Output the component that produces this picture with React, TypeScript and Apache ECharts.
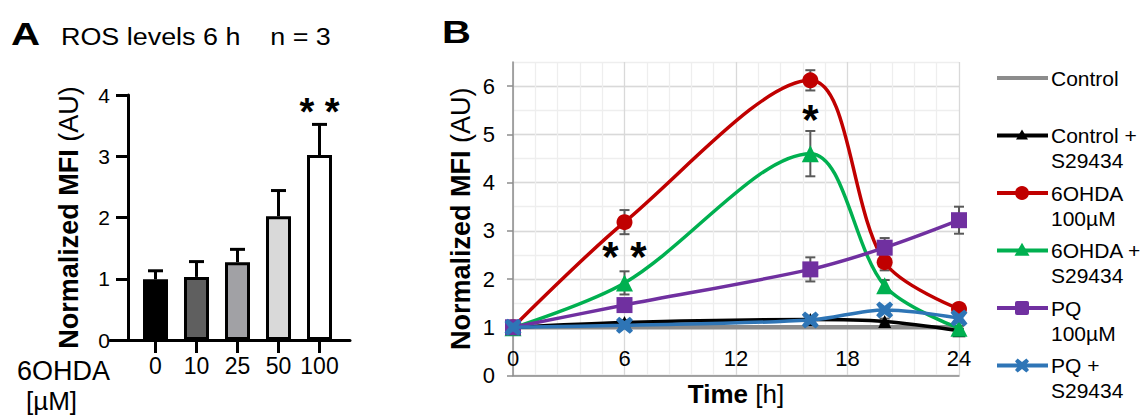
import React, { useEffect, useRef } from 'react';
import * as echarts from 'echarts';

const FONT = '"Liberation Sans", Arial, Helvetica, sans-serif';

// ---------- Panel A data ----------
const doseLabels = ['0', '10', '25', '50', '100'];
const rosMeans = [0.99, 1.03, 1.27, 2.02, 3.02];
const rosErrors = [0.14, 0.25, 0.21, 0.42, 0.5];
const barColors = ['#000000', '#5f5f5f', '#a1a1a5', '#d9d9d9', '#ffffff'];
const annA = [{ x: 4, y: 3.72, text: '* *' }];

// ---------- Panel B data ----------
const hours = [0, 6, 16, 20, 24];
const control = [1, 1, 1, 1, 1];
const controlS = [1, 1.1, 1.16, 1.12, 0.93];
const ohda = [1, 3.18, 6.12, 2.35, 1.38];
const ohdaS = [0.99, 1.92, 4.6, 1.86, 0.98];
const pq = [1, 1.46, 2.2, 2.65, 3.22];
const pqS = [1, 1.04, 1.15, 1.36, 1.19];

const controlErr = [0, 0, 0, 0, 0];
const controlSErr = [0, 0.05, 0.05, 0.06, 0.04];
const ohdaErr = [0, 0.25, 0.21, 0.17, 0.08];
const ohdaSErr = [0, 0.24, 0.47, 0.12, 0.05];
const pqErr = [0, 0.12, 0.25, 0.2, 0.28];
const pqSErr = [0, 0.04, 0.05, 0.06, 0.05];

const annB = [
  { x: 6, y: 2.47, text: '* *' },
  { x: 16, y: 5.31, text: '*' },
];

const yTicksB = [0, 1, 2, 3, 4, 5, 6];

const X_PATH = 'path://M3,0 L8,4 L13,0 L16,3 L12,8 L16,13 L13,16 L8,12 L3,16 L0,13 L4,8 L0,3 Z';

const seriesB = [
  { name: 'Control', legend: ['Control'], values: control, errors: controlErr, color: '#8c8c8c', symbol: 'none', size: 0, width: 4.5 },
  { name: 'Control + S29434', legend: ['Control +', 'S29434'], values: controlS, errors: controlSErr, color: '#000000', symbol: 'triangle', size: 13, width: 3.5 },
  { name: '6OHDA 100µM', legend: ['6OHDA', '100µM'], values: ohda, errors: ohdaErr, color: '#c00000', symbol: 'circle', size: 16, width: 3.5 },
  { name: '6OHDA + S29434', legend: ['6OHDA +', 'S29434'], values: ohdaS, errors: ohdaSErr, color: '#00b050', symbol: 'triangle', size: 17, width: 3.5 },
  { name: 'PQ 100µM', legend: ['PQ', '100µM'], values: pq, errors: pqErr, color: '#7030a0', symbol: 'rect', size: 16, width: 3.5 },
  { name: 'PQ + S29434', legend: ['PQ +', 'S29434'], values: pqS, errors: pqSErr, color: '#2e75b6', symbol: X_PATH, size: 17, width: 3.5 },
];

function errorRenderer(cap: number, color: string, width: number, upOnly: boolean) {
  return (_params: any, api: any) => {
    const x = api.value(0);
    const y = api.value(1);
    const e = api.value(2);
    if (!e) return null;
    const top = api.coord([x, y + e]);
    const bot = api.coord([x, upOnly ? y : y - e]);
    const style = { stroke: color, lineWidth: width };
    const children: any[] = [
      { type: 'line', shape: { x1: top[0], y1: top[1], x2: bot[0], y2: bot[1] }, style },
      { type: 'line', shape: { x1: top[0] - cap, y1: top[1], x2: top[0] + cap, y2: top[1] }, style },
    ];
    if (!upOnly) {
      children.push({ type: 'line', shape: { x1: bot[0] - cap, y1: bot[1], x2: bot[0] + cap, y2: bot[1] }, style });
    }
    return { type: 'group', children };
  };
}

function textRenderer(size: number, items: { text: string }[]) {
  return (params: any, api: any) => {
    const p = api.coord([api.value(0), api.value(1)]);
    const item = items[params.dataIndex];
    return {
      type: 'text',
      x: p[0],
      y: p[1],
      style: {
        text: item ? item.text : '',
        fontSize: size,
        fontWeight: 'bold',
        fontFamily: FONT,
        fill: '#000',
        align: 'center',
        verticalAlign: 'middle',
      },
    };
  };
}

function legendGraphics() {
  const els: any[] = [];
  const y0 = 78;
  const step = 57.5;
  seriesB.forEach((s, i) => {
    const y = y0 + i * step;
    els.push({ type: 'line', shape: { x1: 997, y1: y, x2: 1048, y2: y }, style: { stroke: s.color, lineWidth: 4 } });
    const cx = 1022;
    if (s.symbol === 'circle') {
      els.push({ type: 'circle', shape: { cx, cy: y, r: 7 }, style: { fill: s.color } });
    } else if (s.symbol === 'triangle') {
      const h = i === 1 ? 10 : 13;
      const w = i === 1 ? 12 : 15;
      els.push({ type: 'polygon', shape: { points: [[cx, y - h * 0.6], [cx + w / 2, y + h * 0.4], [cx - w / 2, y + h * 0.4]] }, style: { fill: s.color } });
    } else if (s.symbol === 'rect') {
      els.push({ type: 'rect', shape: { x: cx - 7, y: y - 7, width: 14, height: 14, r: 2 }, style: { fill: s.color } });
    } else if (s.symbol === X_PATH) {
      const k = 14 / 16;
      const pts = [[3, 0], [8, 4], [13, 0], [16, 3], [12, 8], [16, 13], [13, 16], [8, 12], [3, 16], [0, 13], [4, 8], [0, 3]].map(
        ([a, b]) => [cx - 7 + a * k, y - 7 + b * k]
      );
      els.push({ type: 'polygon', shape: { points: pts }, style: { fill: s.color } });
    }
    s.legend.forEach((line, j) => {
      els.push({
        type: 'text',
        x: 1051,
        y: y + j * 25,
        style: { text: line, fontSize: 21, fontFamily: FONT, fill: '#000', verticalAlign: 'middle', align: 'left' },
      });
    });
  });
  return els;
}

function buildOption(): any {
  const richName = (size: number) => ({
    b: { fontWeight: 'bold', fontSize: size, fontFamily: FONT, color: '#000' },
    n: { fontSize: size, fontFamily: FONT, color: '#000' },
  });

  const errRowsB: any[] = [];
  seriesB.forEach((s) => {
    hours.forEach((h, i) => {
      if (s.errors[i] > 0) errRowsB.push([h, s.values[i], s.errors[i]]);
    });
  });

  return {
    animation: false,
    backgroundColor: '#ffffff',
    textStyle: { fontFamily: FONT },
    grid: [
      { left: 135, top: 95, width: 205, height: 245 },
      { left: 110, top: 95, width: 240, height: 245 },
      { left: 513, top: 62, width: 446, height: 313.5 },
    ],
    xAxis: [
      {
        type: 'category',
        gridIndex: 0,
        data: doseLabels,
        axisLine: { show: false },
        axisTick: { show: true, alignWithLabel: true, length: 13, lineStyle: { color: '#000', width: 3 } },
        axisLabel: { interval: 0, hideOverlap: false, fontSize: 23, color: '#000', margin: 14, fontFamily: FONT },
        splitLine: { show: false },
      },
      {
        type: 'value',
        gridIndex: 1,
        min: 0,
        max: 1,
        axisLine: { show: true, onZero: false, lineStyle: { color: '#000', width: 3 } },
        axisTick: { show: false },
        axisLabel: { show: false },
        splitLine: { show: false },
      },
      {
        type: 'value',
        gridIndex: 2,
        position: 'bottom',
        min: 0,
        max: 24,
        interval: 6,
        axisLine: { show: true, onZero: false, lineStyle: { color: '#8c8c8c', width: 1.5 } },
        axisTick: { show: false },
        axisLabel: { inside: true, margin: 6, fontSize: 22, color: '#000', fontFamily: FONT },
        splitLine: { show: true, lineStyle: { color: '#d9d9d9', width: 1.3 } },
        minorTick: { show: false, splitNumber: 5 },
        minorSplitLine: { show: true, lineStyle: { color: '#eeeeee', width: 1.3 } },
        name: '{b|Time\u00a0}{n|[h]}',
        nameLocation: 'middle',
        nameGap: 3,
        nameTextStyle: { rich: richName(26) },
      },
    ],
    yAxis: [
      {
        type: 'value',
        gridIndex: 0,
        min: 0,
        max: 4,
        interval: 1,
        offset: 7,
        axisLine: { show: true, lineStyle: { color: '#000', width: 3 } },
        axisTick: { show: true, length: 12, lineStyle: { color: '#000', width: 3 } },
        axisLabel: { fontSize: 21, color: '#000', margin: 18, fontFamily: FONT },
        splitLine: { show: false },
        name: '{b|Normalized MFI\u00a0}{n|(AU)}',
        nameLocation: 'middle',
        nameGap: 46,
        nameTextStyle: { rich: richName(27) },
      },
      { type: 'value', gridIndex: 1, show: false, min: 0, max: 1 },
      {
        type: 'value',
        gridIndex: 2,
        position: 'left',
        min: 0,
        max: 6.5,
        interval: 0.5,
        axisLine: { show: false },
        axisTick: { show: false },
        axisLabel: { show: false },
        splitLine: { show: true, lineStyle: { color: '#eeeeee', width: 1.3 } },
      },
      {
        type: 'value',
        gridIndex: 2,
        position: 'left',
        min: 0,
        max: 6.5,
        interval: 1,
        axisLine: { show: true, lineStyle: { color: '#8c8c8c', width: 1.5 } },
        axisTick: { show: true, length: 6, lineStyle: { color: '#8c8c8c', width: 1.5 }, customValues: yTicksB },
        axisLabel: {
          fontSize: 22,
          color: '#000',
          margin: 18,
          fontFamily: FONT,
          customValues: yTicksB,
          formatter: (v: number) => (Number.isInteger(v) ? String(v) : ''),
        },
        splitLine: { show: true, lineStyle: { color: '#d9d9d9', width: 1.3 } },
        name: '{b|Normalized MFI\u00a0}{n|(AU)}',
        nameLocation: 'middle',
        nameGap: 39,
        nameTextStyle: { rich: richName(27) },
      },
    ],
    graphic: [
      { type: 'text', x: 11, y: 34, scaleX: 1.3, style: { text: 'A', fontSize: 31, fontWeight: 'bold', fontFamily: FONT, fill: '#000', verticalAlign: 'middle' } },
      { type: 'text', x: 61, y: 37, scaleX: 1.17, style: { text: 'ROS levels 6 h    n = 3', fontSize: 23, fontFamily: FONT, fill: '#000', verticalAlign: 'middle' } },
      { type: 'text', x: 442, y: 32, scaleX: 1.25, style: { text: 'B', fontSize: 32, fontWeight: 'bold', fontFamily: FONT, fill: '#000', verticalAlign: 'middle' } },
      { type: 'text', x: 17, y: 371, style: { text: '6OHDA', fontSize: 27, fontFamily: FONT, fill: '#000', verticalAlign: 'middle' } },
      { type: 'text', x: 26, y: 401, style: { text: '[µM]', fontSize: 26, fontFamily: FONT, fill: '#000', verticalAlign: 'middle' } },
      ...legendGraphics(),
    ],
    series: [
      {
        type: 'bar',
        xAxisIndex: 0,
        yAxisIndex: 0,
        barWidth: 25,
        data: rosMeans.map((v, i) => ({ value: v, itemStyle: { color: barColors[i] } })),
        itemStyle: { borderColor: '#000', borderWidth: 3 },
        z: 2,
      },
      {
        type: 'custom',
        xAxisIndex: 0,
        yAxisIndex: 0,
        renderItem: errorRenderer(7.5, '#000', 3, true),
        encode: { x: 0, y: 1 },
        data: rosMeans.map((v, i) => [i, v, rosErrors[i]]),
        z: 3,
      },
      {
        type: 'custom',
        xAxisIndex: 0,
        yAxisIndex: 0,
        renderItem: textRenderer(38, annA),
        encode: { x: 0, y: 1 },
        data: annA.map((a) => [a.x, a.y]),
        z: 4,
      },
      {
        type: 'custom',
        xAxisIndex: 2,
        yAxisIndex: 3,
        renderItem: errorRenderer(5, '#595959', 2, false),
        encode: { x: 0, y: 1 },
        data: errRowsB,
        z: 1,
      },
      ...seriesB.map((s, k) => ({
        type: 'line',
        name: s.name,
        xAxisIndex: 2,
        yAxisIndex: 3,
        data: hours.map((h, i) => [h, s.values[i]]),
        smooth: 0.33,
        symbol: s.symbol,
        symbolSize: s.size,
        showSymbol: s.symbol !== 'none',
        lineStyle: { color: s.color, width: s.width },
        itemStyle: { color: s.color },
        z: 2 + k * 0.01,
      })),
      {
        type: 'custom',
        xAxisIndex: 2,
        yAxisIndex: 3,
        renderItem: textRenderer(42, annB),
        encode: { x: 0, y: 1 },
        data: annB.map((a) => [a.x, a.y]),
        z: 5,
      },
    ],
  };
}

export default function App() {
  const ref = useRef<HTMLDivElement>(null);
  useEffect(() => {
    if (!ref.current) return;
    const chart = echarts.init(ref.current, null, { renderer: 'svg' });
    chart.setOption(buildOption());
    return () => chart.dispose();
  }, []);
  return (
    <div
      ref={ref}
      style={{ position: 'fixed', left: 0, top: 0, width: 1144, height: 418, background: '#fff' }}
    />
  );
}
